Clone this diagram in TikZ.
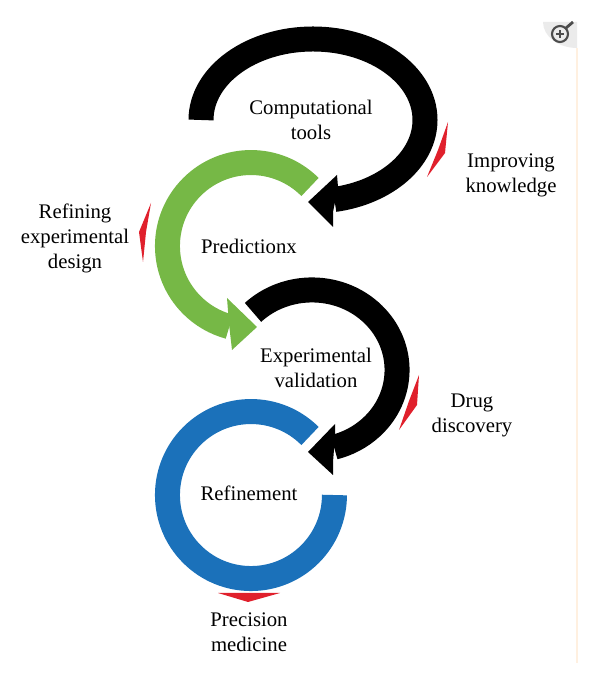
\documentclass[tikz,border=0pt]{standalone}
\usepackage{fontspec}
\setmainfont{Liberation Serif}
\definecolor{ringgreen}{RGB}{118,184,70}
\definecolor{ringblue}{RGB}{27,113,186}
\definecolor{markred}{RGB}{224,32,44}
\tikzset{
  ringline/.style={line width=0.5cm},
  label/.style={font=\fontsize{11.8}{14.2}\selectfont,align=center},
}
\begin{document}
\begin{tikzpicture}[x=0.02cm,y=0.02cm]
        \useasboundingbox (0,0) rectangle (600,685);

        % Black arrow, top
        \draw[ringline,black] (201,565) arc (180:-79:112 and 81);
        \fill[black] (308,483) -- (337,510) -- (338,498) -- (333,473) -- (333,458) -- cycle;

        % Green arrow
        \draw[ringline,ringgreen] (310,498) arc (45:255:83.5);
        \fill[ringgreen] (257,358) -- (227,387) -- (229,361) -- (232,335) -- cycle;

        % Black arrow, middle
        \draw[ringline,black] (253,372.6) arc (134:-75:85 and 80);
        \fill[black] (308,233) -- (335,261) -- (335,248) -- (333,223) -- (333,210) -- cycle;

        % Blue ring
        \draw[ringline,ringblue] (310,249) arc (45:360:83.5);

        % Red marks
        \fill[markred] (448,563) -- (445,532) -- (427,508) -- (438,535) -- cycle;
        \fill[markred] (151,482) -- (139,453) -- (143,423) -- (146,453) -- cycle;
        \fill[markred] (419,310) -- (417,280) -- (399,255) -- (409,284) -- cycle;
        \fill[markred] (218,92) -- (280,92) -- (248,83) -- cycle;

        % Labels
        \node[label] (tools) at (311,565) {Computational\\tools};
        \node[label] (improving) at (511,510) {Improving\\knowledge};
        \node[label] (refining) at (75,447) {Refining\\experimental\\design};
        \node[label] (prediction) at (249,439) {Predictionx};
        \node[label] (validation) at (316,317) {Experimental\\validation};
        \node[label] (discovery) at (472,270) {Drug\\discovery};
        \node[label] (refinement) at (249,192) {Refinement};
        \node[label] (precision) at (249,53) {Precision\\medicine};

        % Zoom badge
        \fill[black!8] (577,637) -- (577,663) -- (543,663) arc (180:270:34 and 26) -- cycle;
        \draw[line width=1.2pt,black!70] (560,651) circle (8);
        \draw[line width=1.6pt,black!70] (566,657) -- (573,663);
        \draw[line width=0.6pt,black!70] (556,651) -- (564,651) (560,647) -- (560,655);
        \draw[line width=1pt,orange!12] (577,22) -- (577,637);
      \end{tikzpicture}
\end{document}
